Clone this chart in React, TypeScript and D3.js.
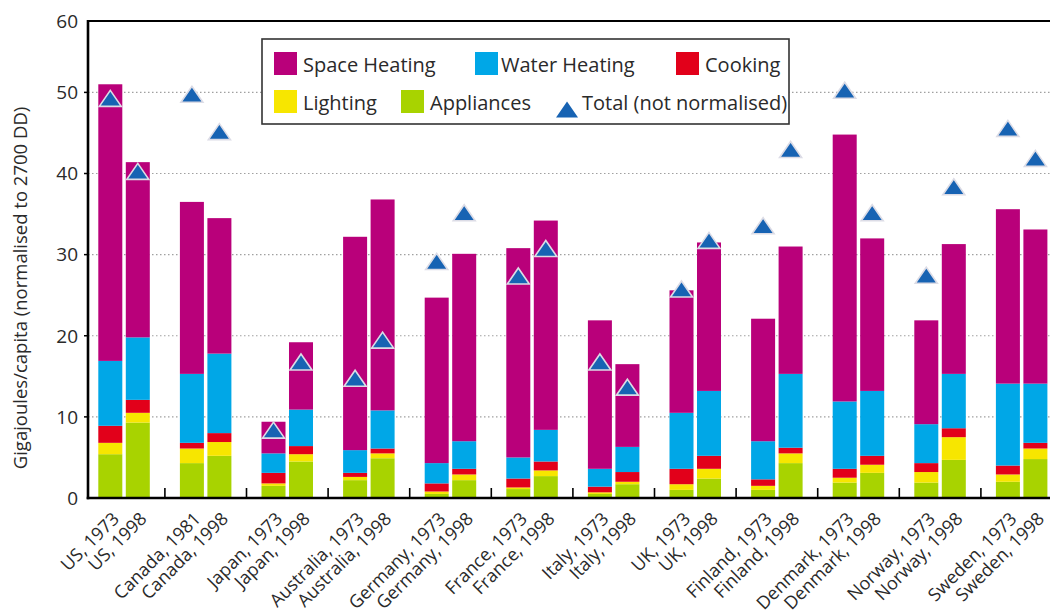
import React from "react";
import * as d3 from "d3";

const countries = ["US", "Canada", "Japan", "Australia", "Germany", "France", "Italy", "UK", "Finland", "Denmark", "Norway", "Sweden"];
const years = [
  ["1973", "1998"], ["1981", "1998"], ["1973", "1998"], ["1973", "1998"],
  ["1973", "1998"], ["1973", "1998"], ["1973", "1998"], ["1973", "1998"],
  ["1973", "1998"], ["1973", "1998"], ["1973", "1998"], ["1973", "1998"],
];

// values per bar, in order: country A year1, year2, ...
const appliances = [5.4, 9.3, 4.3, 5.2, 1.5, 4.5, 2.2, 4.9, 0.5, 2.2, 1.1, 2.7, 0.5, 1.7, 1.0, 2.4, 1.0, 4.3, 1.9, 3.1, 1.9, 4.7, 2.0, 4.8];
const lighting = [1.4, 1.2, 1.8, 1.7, 0.3, 0.9, 0.4, 0.6, 0.3, 0.7, 0.2, 0.7, 0.2, 0.3, 0.7, 1.2, 0.5, 1.2, 0.6, 1.0, 1.3, 2.8, 0.9, 1.3];
const cooking = [2.1, 1.6, 0.7, 1.1, 1.3, 1.0, 0.5, 0.6, 1.0, 0.7, 1.1, 1.1, 0.7, 1.2, 1.9, 1.6, 0.8, 0.7, 1.1, 1.1, 1.1, 1.1, 1.1, 0.7];
const waterHeating = [8.0, 7.7, 8.5, 9.8, 2.4, 4.5, 2.8, 4.7, 2.5, 3.4, 2.6, 3.9, 2.2, 3.1, 6.9, 8.0, 4.7, 9.1, 8.3, 8.0, 4.8, 6.7, 10.1, 7.3];
const spaceHeating = [34.1, 21.6, 21.2, 16.7, 3.9, 8.3, 26.3, 26.0, 20.4, 23.1, 25.8, 25.8, 18.3, 10.2, 15.1, 18.3, 15.1, 15.7, 32.9, 18.8, 12.8, 16.0, 21.5, 19.0];
const totalNotNormalised = [49.2, 40.2, 49.7, 45.1, 8.3, 16.7, 14.7, 19.4, 29.1, 35.1, 27.3, 30.7, 16.7, 13.6, 25.7, 31.7, 33.5, 42.9, 50.2, 35.1, 27.4, 38.3, 45.5, 41.8];

const yTicks = [0, 10, 20, 30, 40, 50, 60];

const seriesNames = ["Appliances", "Lighting", "Cooking", "Water Heating", "Space Heating"];
const seriesValues = [appliances, lighting, cooking, waterHeating, spaceHeating];
const seriesColors = ["#a8d300", "#f7e600", "#e2001a", "#00a7e7", "#b9007a"];
const triColor = "#1763b3";

const W = 1050, H = 616;
const left = 88, right = 1050, top = 21, bottom = 498;
const yMax = 58.8;

const font = "'Open Sans', 'Noto Sans', sans-serif";
const textColor = "#2a2a2a";

export default function App() {
  const y = d3.scaleLinear().domain([0, yMax]).range([bottom, top]);
  const x = d3.scaleBand<string>().domain(countries).range([83.3, 1062.5]).paddingInner(0).paddingOuter(0);
  const inner = d3.scaleBand<string>().domain(["0", "1"]).range([15, 15 + 51.5]).paddingInner(0.127).paddingOuter(0);

  const bars = countries.flatMap((c, gi) =>
    [0, 1].map((k) => {
      const i = gi * 2 + k;
      const vals = seriesValues.map((s) => s[i]);
      const stack: { y0: number; y1: number; color: string; name: string }[] = [];
      let acc = 0;
      vals.forEach((v, si) => {
        stack.push({ y0: acc, y1: acc + v, color: seriesColors[si], name: seriesNames[si] });
        acc += v;
      });
      return {
        i,
        label: `${c}, ${years[gi][k]}`,
        x0: (x(c) as number) + (inner(String(k)) as number),
        w: inner.bandwidth(),
        stack,
        total: totalNotNormalised[i],
      };
    })
  );

  const tri = "M0,-8.5 L11,7.5 L-11,7.5 Z";

  const legendItems = [
    { name: "Space Heating", color: seriesColors[4], sx: 274, sy: 52, tx: 303, ty: 72 },
    { name: "Water Heating", color: seriesColors[3], sx: 475, sy: 52, tx: 501, ty: 72 },
    { name: "Cooking", color: seriesColors[2], sx: 676, sy: 52, tx: 705, ty: 72 },
    { name: "Lighting", color: seriesColors[1], sx: 274, sy: 90, tx: 303, ty: 110 },
    { name: "Appliances", color: seriesColors[0], sx: 401, sy: 90, tx: 430, ty: 110 },
  ];

  const groupBoundaries = countries.slice(1).map((c) => x(c) as number);

  return (
    <svg width={W} height={H} style={{ position: "absolute", left: 0, top: 0, background: "#fff" }} fontFamily={font}>
      <rect x={0} y={0} width={W} height={H} fill="#fff" />
      {/* gridlines */}
      {yTicks.filter((t) => t > 0 && t < 60).map((t) => (
        <line key={t} x1={left} x2={right} y1={y(t)} y2={y(t)} stroke="#a0a0a0" strokeWidth={1.2} strokeDasharray="1.5,2.5" />
      ))}
      {/* bars */}
      {bars.map((b) => (
        <g key={b.i}>
          {b.stack.map((s) => (
            <rect key={s.name} x={b.x0} width={b.w} y={y(s.y1)} height={y(s.y0) - y(s.y1)} fill={s.color} />
          ))}
        </g>
      ))}
      {/* triangles */}
      {bars.map((b) => (
        <path key={"t" + b.i} d={tri} transform={`translate(${b.x0 + b.w / 2},${y(b.total)})`} fill={triColor} stroke="#dcdce6" strokeWidth={1.6} strokeLinejoin="miter" />
      ))}
      {/* axes */}
      <line x1={left} x2={right} y1={top} y2={top} stroke="#000" strokeWidth={2.2} />
      <line x1={left} x2={left} y1={top - 1} y2={bottom + 1.2} stroke="#000" strokeWidth={2.6} />
      <line x1={left - 1.3} x2={right} y1={bottom} y2={bottom} stroke="#000" strokeWidth={2.6} />
      {groupBoundaries.map((bx, i) => (
        <line key={i} x1={bx} x2={bx} y1={bottom} y2={bottom - 10} stroke="#000" strokeWidth={1.6} />
      ))}
      {yTicks.filter((t) => t > 0 && t < 60).map((t) => (
        <line key={"yt" + t} x1={left - 4} x2={left} y1={y(t)} y2={y(t)} stroke="#000" strokeWidth={1.5} />
      ))}
      {yTicks.map((t) => (
        <text key={"yl" + t} x={78} y={t === 60 ? top : y(t)} dy="0.36em" textAnchor="end" fontSize={19} fill={textColor}>
          {t}
        </text>
      ))}
      <text transform={`translate(27,288) rotate(-90)`} textAnchor="middle" fontSize={18.5} fill={textColor}>
        Gigajoules/capita (normalised to 2700 DD)
      </text>
      {/* x labels */}
      {bars.map((b) => (
        <text key={"xl" + b.i} transform={`translate(${b.x0 + b.w / 2 + 10},${520}) rotate(-45)`} textAnchor="end" fontSize={18} fill={textColor}>
          {b.label}
        </text>
      ))}
      {/* legend */}
      <rect x={262} y={39} width={527} height={85} fill="#fff" stroke="#333" strokeWidth={1.6} />
      {legendItems.map((l) => (
        <g key={l.name}>
          <rect x={l.sx} y={l.sy} width={23} height={23} fill={l.color} />
          <text x={l.tx} y={l.ty} fontSize={20} fill={textColor}>{l.name}</text>
        </g>
      ))}
      <path d={tri} transform="translate(567,110)" fill={triColor} />
      <text x={582} y={110} fontSize={20} fill={textColor}>Total (not normalised)</text>
    </svg>
  );
}
